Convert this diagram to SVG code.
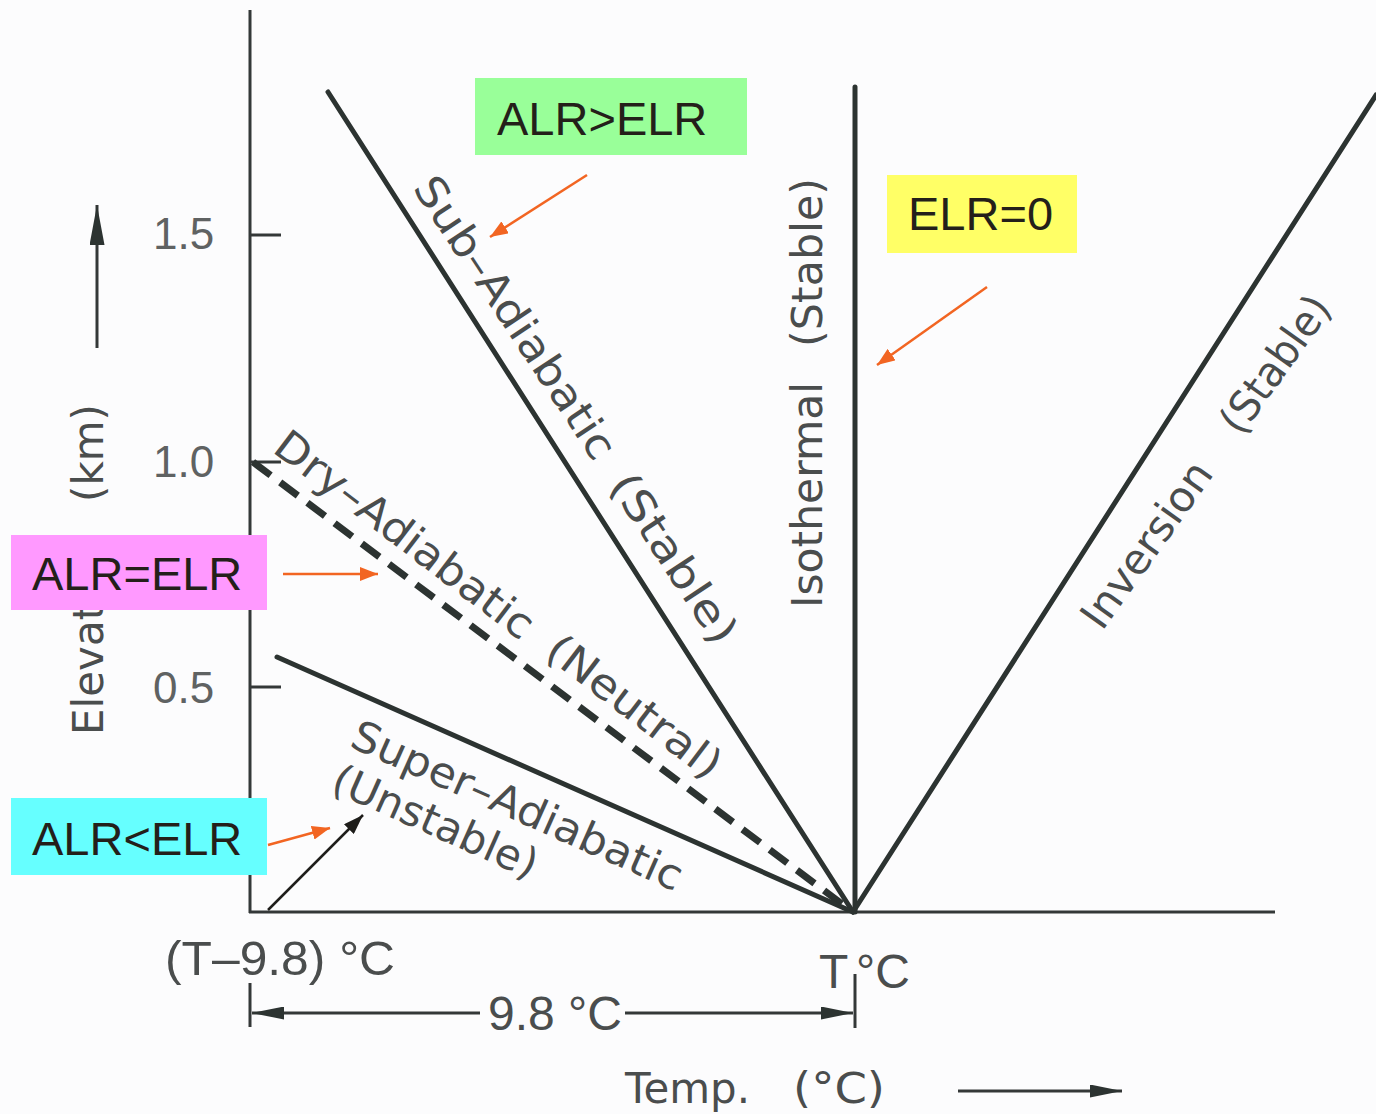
<svg xmlns="http://www.w3.org/2000/svg" width="1376" height="1114" viewBox="0 0 1376 1114">
<defs>
<style>
.ax{stroke:#343838;stroke-width:3;fill:none}
.ln{stroke:#2c3331;stroke-width:5;fill:none;stroke-linecap:round}
.lbl{font-family:"DejaVu Sans",sans-serif;font-size:42px;fill:#4a4d4d}
.num{font-family:"Liberation Sans",Arial,sans-serif;font-size:44px;fill:#5f6262}
.dim{font-family:"Liberation Sans",Arial,sans-serif;font-size:48px;fill:#4a4d4d}
.box{font-family:"Liberation Sans",Arial,sans-serif;font-size:47px;fill:#241f1a}
.oa{stroke:#f26522;stroke-width:2.5;fill:none}
.ba{stroke:#1e1d1a;stroke-width:2.5;fill:none}
</style>
<marker id="mo" viewBox="0 0 10 10" refX="10" refY="5" markerWidth="18" markerHeight="14" markerUnits="userSpaceOnUse" orient="auto" preserveAspectRatio="none"><path d="M0,0 L10,5 L0,10 Z" fill="#f26522"/></marker>
<marker id="mb" viewBox="0 0 10 10" refX="10" refY="5" markerWidth="20" markerHeight="14" markerUnits="userSpaceOnUse" orient="auto" preserveAspectRatio="none"><path d="M0,0 L10,5 L0,10 Z" fill="#1e1d1a"/></marker>
<marker id="mk" viewBox="0 0 10 10" refX="10" refY="5" markerWidth="32" markerHeight="13" markerUnits="userSpaceOnUse" orient="auto" preserveAspectRatio="none"><path d="M0,0 L10,5 L0,10 Z" fill="#2c3331"/></marker>
<marker id="mu" viewBox="0 0 10 10" refX="10" refY="5" markerWidth="40" markerHeight="15" markerUnits="userSpaceOnUse" orient="auto" preserveAspectRatio="none"><path d="M0,0 L10,5 L0,10 Z" fill="#2c3331"/></marker>
</defs>
<rect width="1376" height="1114" fill="#fcfcfd"/>

<g id="axes">
<line class="ax" x1="250" y1="10" x2="250" y2="913"/>
<line class="ax" x1="249" y1="912" x2="1275" y2="912"/>
<line class="ax" x1="250" y1="235" x2="281" y2="235"/>
<line class="ax" x1="250" y1="462" x2="281" y2="462"/>
<line class="ax" x1="250" y1="687" x2="281" y2="687"/>
<text class="num" x="153" y="249">1.5</text>
<text class="num" x="153" y="477">1.0</text>
<text class="num" x="153" y="703">0.5</text>
<text class="lbl" font-size="40" transform="translate(103,735) rotate(-90)">Elevation</text>
<text class="lbl" font-size="40" transform="translate(103,502) rotate(-90)">(km)</text>
<line x1="97" y1="348" x2="97" y2="205" stroke="#343838" stroke-width="3" marker-end="url(#mu)"/>
</g>

<g id="lines">
<line id="sub-adiabatic" class="ln" x1="328" y1="92" x2="853" y2="912"/>
<line id="isothermal" class="ln" x1="855" y1="87" x2="855" y2="912"/>
<line id="inversion" class="ln" x1="853" y1="912" x2="1376" y2="95"/>
<line id="dry-adiabatic" x1="253" y1="462" x2="850" y2="910" stroke="#2c3331" stroke-width="7" stroke-dasharray="22 12"/>
<line id="super-adiabatic" class="ln" stroke-width="6" x1="277" y1="657" x2="853" y2="912"/>
</g>

<g id="line-labels">
<text class="lbl" transform="translate(412,188) rotate(56.5)" textLength="330" lengthAdjust="spacingAndGlyphs">Sub–Adiabatic</text>
<text class="lbl" transform="translate(608,485) rotate(56.5)" textLength="195" lengthAdjust="spacingAndGlyphs">(Stable)</text>
<text class="lbl" transform="translate(271,451) rotate(37.3)" textLength="314" lengthAdjust="spacingAndGlyphs">Dry–Adiabatic</text>
<text class="lbl" transform="translate(543,655) rotate(37.3)" textLength="208" lengthAdjust="spacingAndGlyphs">(Neutral)</text>
<text class="lbl" transform="translate(348,746) rotate(24)" textLength="358" lengthAdjust="spacingAndGlyphs">Super–Adiabatic</text>
<text class="lbl" transform="translate(329,790) rotate(24)" textLength="220" lengthAdjust="spacingAndGlyphs">(Unstable)</text>
<text class="lbl" transform="translate(822,608) rotate(-90)" textLength="226" lengthAdjust="spacingAndGlyphs">Isothermal</text>
<text class="lbl" transform="translate(822,347) rotate(-90)" textLength="169" lengthAdjust="spacingAndGlyphs">(Stable)</text>
<text class="lbl" transform="translate(1102,632) rotate(-54.5)" textLength="194" lengthAdjust="spacingAndGlyphs">Inversion</text>
<text class="lbl" transform="translate(1241,437) rotate(-54.5)" textLength="158" lengthAdjust="spacingAndGlyphs">(Stable)</text>
</g>

<g id="temperature-scale">
<text class="dim" x="165" y="975" textLength="230" lengthAdjust="spacingAndGlyphs">(T–9.8) °C</text>
<text class="dim" x="819" y="988">T</text>
<text class="dim" x="856" y="988">°C</text>
<line class="ax" x1="250" y1="983" x2="250" y2="1027"/>
<line class="ax" x1="855" y1="974" x2="855" y2="1028"/>
<line x1="480" y1="1013" x2="252" y2="1013" stroke="#343838" stroke-width="3" marker-end="url(#mk)"/>
<line x1="625" y1="1013" x2="853" y2="1013" stroke="#343838" stroke-width="3" marker-end="url(#mk)"/>
<text class="dim" x="488" y="1030">9.8 °C</text>
<text class="lbl" font-size="40" x="625" y="1103" textLength="125" lengthAdjust="spacingAndGlyphs">Temp.</text>
<text class="lbl" font-size="40" x="793" y="1103" textLength="92" lengthAdjust="spacingAndGlyphs">(°C)</text>
<line x1="958" y1="1091" x2="1122" y2="1091" stroke="#343838" stroke-width="3" marker-end="url(#mk)"/>
</g>

<g id="box-alr-gt-elr">
<rect x="475" y="78" width="272" height="77" fill="#99ff99"/>
<text class="box" x="497" y="135">ALR&gt;ELR</text>
</g>
<g id="box-elr-0">
<rect x="887" y="175" width="190" height="78" fill="#ffff66"/>
<text class="box" x="908" y="230">ELR=0</text>
</g>
<g id="box-alr-eq-elr">
<rect x="11" y="535" width="256" height="75" fill="#ff99ff"/>
<text class="box" x="32" y="590">ALR=ELR</text>
</g>
<g id="box-alr-lt-elr">
<rect x="11" y="798" width="256" height="77" fill="#66ffff"/>
<text class="box" x="32" y="855">ALR&lt;ELR</text>
</g>

<g id="connectors">
<line class="oa" x1="587" y1="175" x2="490" y2="237" marker-end="url(#mo)"/>
<line class="oa" x1="987" y1="287" x2="877" y2="365" marker-end="url(#mo)"/>
<line class="oa" x1="283" y1="574" x2="378" y2="574" marker-end="url(#mo)"/>
<line class="oa" x1="268" y1="845" x2="330" y2="828" marker-end="url(#mo)"/>
<line class="ba" x1="268" y1="910" x2="363" y2="815" marker-end="url(#mb)"/>
</g>
</svg>
